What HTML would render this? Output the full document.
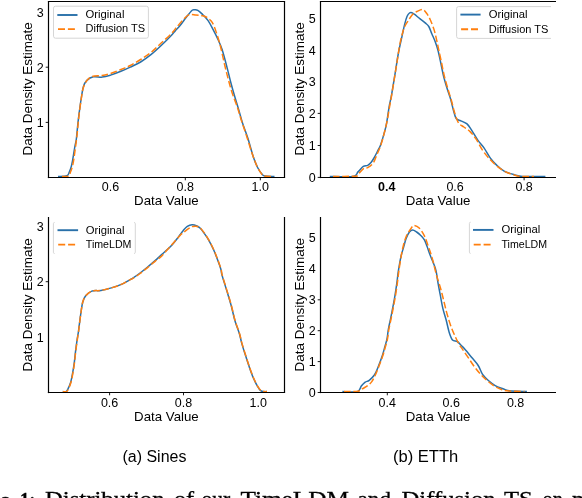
<!DOCTYPE html>
<html><head><meta charset="utf-8"><title>figure</title>
<style>html,body{margin:0;padding:0;background:#fff;overflow:hidden}svg{display:block;will-change:transform;transform:translateZ(0)}</style>
</head><body>
<svg width="582" height="498" viewBox="0 0 582 498">
<rect width="582" height="498" fill="#fff"/>
<path d="M58.00 176.50 C59.48 176.38 65.02 176.53 66.90 175.80 C68.78 175.07 68.57 173.65 69.30 172.10 C70.03 170.55 70.77 168.37 71.30 166.50 C71.83 164.63 72.10 163.03 72.50 160.90 C72.90 158.77 73.30 156.12 73.70 153.70 C74.10 151.28 74.50 148.55 74.90 146.40 C75.30 144.25 75.80 142.58 76.10 140.80 C76.40 139.02 76.40 138.57 76.70 135.70 C77.00 132.83 77.50 127.32 77.90 123.60 C78.30 119.88 78.53 117.67 79.10 113.40 C79.67 109.13 80.58 102.45 81.30 98.00 C82.02 93.55 82.47 89.63 83.40 86.70 C84.33 83.77 85.23 82.05 86.90 80.40 C88.57 78.75 90.83 77.35 93.40 76.80 C95.97 76.25 99.43 77.38 102.30 77.10 C105.17 76.82 107.50 76.07 110.60 75.10 C113.70 74.13 117.62 72.63 120.90 71.30 C124.18 69.97 127.02 68.65 130.30 67.10 C133.58 65.55 137.17 64.07 140.60 62.00 C144.03 59.93 147.47 57.45 150.90 54.70 C154.33 51.95 157.77 48.75 161.20 45.50 C164.63 42.25 169.17 37.63 171.50 35.20 C173.83 32.77 173.73 32.55 175.20 30.90 C176.67 29.25 178.42 27.62 180.30 25.30 C182.18 22.98 184.52 19.50 186.50 17.00 C188.48 14.50 190.83 11.50 192.20 10.30 C193.57 9.10 193.77 9.80 194.70 9.80 C195.63 9.80 196.58 9.62 197.80 10.30 C199.02 10.98 200.28 12.18 202.00 13.90 C203.72 15.62 206.22 17.93 208.10 20.60 C209.98 23.27 211.75 26.98 213.30 29.90 C214.85 32.82 215.93 34.83 217.40 38.10 C218.87 41.37 220.47 44.50 222.10 49.50 C223.73 54.50 225.75 62.60 227.20 68.10 C228.65 73.60 229.58 77.88 230.80 82.50 C232.02 87.12 233.18 91.28 234.50 95.80 C235.82 100.32 237.37 105.05 238.70 109.60 C240.03 114.15 240.98 118.35 242.50 123.10 C244.02 127.85 246.03 132.58 247.80 138.10 C249.57 143.62 251.47 151.30 253.10 156.20 C254.73 161.10 256.10 164.48 257.60 167.50 C259.10 170.52 260.85 172.87 262.10 174.30 C263.35 175.73 263.03 175.73 265.10 176.10 C267.17 176.47 272.93 176.43 274.50 176.50" fill="none" stroke="#2970a9" stroke-width="1.5" stroke-linejoin="round"/>
<path d="M62.00 176.50 C63.08 176.45 67.08 176.95 68.50 176.20 C69.92 175.45 69.83 173.70 70.50 172.00 C71.17 170.30 71.92 168.33 72.50 166.00 C73.08 163.67 73.50 161.17 74.00 158.00 C74.50 154.83 75.03 150.50 75.50 147.00 C75.97 143.50 76.38 140.67 76.80 137.00 C77.22 133.33 77.58 129.00 78.00 125.00 C78.42 121.00 78.75 117.42 79.30 113.00 C79.85 108.58 80.65 102.67 81.30 98.50 C81.95 94.33 82.33 90.92 83.20 88.00 C84.07 85.08 85.03 82.92 86.50 81.00 C87.97 79.08 89.42 77.42 92.00 76.50 C94.58 75.58 98.90 76.00 102.00 75.50 C105.10 75.00 107.45 74.50 110.60 73.50 C113.75 72.50 117.62 70.83 120.90 69.50 C124.18 68.17 127.02 67.17 130.30 65.50 C133.58 63.83 137.17 61.67 140.60 59.50 C144.03 57.33 147.47 55.25 150.90 52.50 C154.33 49.75 157.77 46.17 161.20 43.00 C164.63 39.83 169.00 36.03 171.50 33.50 C174.00 30.97 174.38 29.95 176.20 27.80 C178.02 25.65 180.33 22.75 182.40 20.60 C184.47 18.45 186.37 15.85 188.60 14.90 C190.83 13.95 193.57 14.77 195.80 14.90 C198.03 15.03 200.28 15.35 202.00 15.70 C203.72 16.05 204.57 16.10 206.10 17.00 C207.63 17.90 209.83 19.47 211.20 21.10 C212.57 22.73 213.08 23.78 214.30 26.80 C215.52 29.82 217.38 35.58 218.50 39.20 C219.62 42.82 219.97 44.20 221.00 48.50 C222.03 52.80 223.50 59.92 224.70 65.00 C225.90 70.08 226.95 74.33 228.20 79.00 C229.45 83.67 230.68 88.33 232.20 93.00 C233.72 97.67 235.73 102.33 237.30 107.00 C238.87 111.67 240.00 116.00 241.60 121.00 C243.20 126.00 245.12 131.50 246.90 137.00 C248.68 142.50 250.63 149.17 252.30 154.00 C253.97 158.83 255.38 162.73 256.90 166.00 C258.42 169.27 260.13 171.93 261.40 173.60 C262.67 175.27 262.73 175.52 264.50 176.00 C266.27 176.48 270.75 176.42 272.00 176.50" fill="none" stroke="#ff7f0e" stroke-width="1.5" stroke-dasharray="6.6 2.7" stroke-linejoin="round"/>
<line x1="47.90" y1="1.50" x2="285.10" y2="1.50" stroke="#000" stroke-width="1.2"/>
<line x1="284.50" y1="1.50" x2="284.50" y2="177.50" stroke="#000" stroke-width="1.2"/>
<line x1="48.50" y1="1.50" x2="48.50" y2="178.10" stroke="#000" stroke-width="1.2"/>
<line x1="47.90" y1="177.50" x2="285.10" y2="177.50" stroke="#000" stroke-width="1.2"/>
<text x="110.50" y="190.70" font-size="12.5" text-anchor="middle" font-weight="normal" font-family='"Liberation Sans", sans-serif' >0.6</text>
<line x1="185.30" y1="177.50" x2="185.30" y2="180.30" stroke="#000" stroke-width="0.9"/>
<text x="185.30" y="190.70" font-size="12.5" text-anchor="middle" font-weight="normal" font-family='"Liberation Sans", sans-serif' >0.8</text>
<line x1="260.30" y1="177.50" x2="260.30" y2="180.30" stroke="#000" stroke-width="0.9"/>
<text x="260.30" y="190.70" font-size="12.5" text-anchor="middle" font-weight="normal" font-family='"Liberation Sans", sans-serif' >1.0</text>
<text x="43.70" y="16.60" font-size="12.5" text-anchor="end" font-weight="normal" font-family='"Liberation Sans", sans-serif' >3</text>
<line x1="45.70" y1="67.20" x2="48.50" y2="67.20" stroke="#000" stroke-width="0.9"/>
<text x="43.70" y="71.50" font-size="12.5" text-anchor="end" font-weight="normal" font-family='"Liberation Sans", sans-serif' >2</text>
<line x1="45.70" y1="122.40" x2="48.50" y2="122.40" stroke="#000" stroke-width="0.9"/>
<text x="43.70" y="126.70" font-size="12.5" text-anchor="end" font-weight="normal" font-family='"Liberation Sans", sans-serif' >1</text>
<text x="166.40" y="205.20" font-size="12.8" text-anchor="middle" font-weight="normal" font-family='"Liberation Sans", sans-serif' textLength="64.6" lengthAdjust="spacingAndGlyphs">Data Value</text>
<text x="0" y="0" font-size="12.7" text-anchor="middle" font-family='"Liberation Sans", sans-serif' textLength="133.4" lengthAdjust="spacingAndGlyphs" transform="translate(32.00 88.90) rotate(-90)">Data Density Estimate</text>
<rect x="53.50" y="6.20" width="94.90" height="32.00" rx="2" fill="#fff" stroke="#d6d6d6" stroke-width="1"/>
<line x1="57.30" y1="15.00" x2="77.50" y2="15.00" stroke="#2970a9" stroke-width="1.9"/>
<line x1="58.00" y1="29.10" x2="76.70" y2="29.10" stroke="#ff7f0e" stroke-width="1.9" stroke-dasharray="7.0 2.9"/>
<text x="85.60" y="17.90" font-size="10" text-anchor="start" font-weight="normal" font-family='"Liberation Sans", sans-serif' textLength="38.8" lengthAdjust="spacingAndGlyphs">Original</text>
<text x="85.60" y="32.40" font-size="10" text-anchor="start" font-weight="normal" font-family='"Liberation Sans", sans-serif' textLength="59.6" lengthAdjust="spacingAndGlyphs">Diffusion TS</text>
<path d="M329.80 176.50 C333.67 176.50 348.30 177.27 353.00 176.50 C357.70 175.73 356.28 173.58 358.00 171.90 C359.72 170.22 361.68 167.50 363.30 166.40 C364.92 165.30 366.42 165.95 367.70 165.30 C368.98 164.65 369.90 163.80 371.00 162.50 C372.10 161.20 373.18 159.43 374.30 157.50 C375.42 155.57 376.68 152.92 377.70 150.90 C378.72 148.88 379.48 147.78 380.40 145.40 C381.32 143.02 382.28 139.73 383.20 136.60 C384.12 133.47 385.22 129.55 385.90 126.60 C386.58 123.65 386.75 122.28 387.30 118.90 C387.85 115.52 388.53 110.05 389.20 106.30 C389.87 102.55 390.60 100.15 391.30 96.40 C392.00 92.65 392.70 88.02 393.40 83.80 C394.10 79.58 394.78 75.57 395.50 71.10 C396.22 66.63 396.97 61.22 397.70 57.00 C398.43 52.78 399.13 49.48 399.90 45.80 C400.67 42.12 401.50 38.52 402.30 34.90 C403.10 31.28 403.90 27.20 404.70 24.10 C405.50 21.00 406.30 18.15 407.10 16.30 C407.90 14.45 408.70 13.60 409.50 13.00 C410.30 12.40 411.10 12.50 411.90 12.70 C412.70 12.90 412.98 13.20 414.30 14.20 C415.62 15.20 417.98 17.25 419.80 18.70 C421.62 20.15 423.70 21.60 425.20 22.90 C426.70 24.20 427.70 24.70 428.80 26.50 C429.90 28.30 430.70 31.08 431.80 33.70 C432.90 36.32 434.35 39.35 435.40 42.20 C436.45 45.05 437.18 47.25 438.10 50.80 C439.02 54.35 439.98 59.27 440.90 63.50 C441.82 67.73 442.55 71.98 443.60 76.20 C444.65 80.42 446.00 84.88 447.20 88.80 C448.40 92.72 449.75 96.08 450.80 99.70 C451.85 103.32 452.60 107.37 453.50 110.50 C454.40 113.63 454.98 116.78 456.20 118.50 C457.42 120.22 459.00 119.90 460.80 120.80 C462.60 121.70 465.20 122.35 467.00 123.90 C468.80 125.45 469.80 127.40 471.60 130.10 C473.40 132.80 475.73 137.13 477.80 140.10 C479.87 143.07 481.93 144.93 484.00 147.90 C486.07 150.87 488.13 155.07 490.20 157.90 C492.27 160.73 494.08 162.70 496.40 164.90 C498.72 167.10 501.02 169.43 504.10 171.10 C507.18 172.77 511.82 174.00 514.90 174.90 C517.98 175.80 517.52 176.23 522.60 176.50 C527.68 176.77 541.60 176.50 545.40 176.50" fill="none" stroke="#2970a9" stroke-width="1.5" stroke-linejoin="round"/>
<path d="M333.00 176.50 C336.67 176.45 350.92 176.45 355.00 176.20 C359.08 175.95 356.12 176.23 357.50 175.00 C358.88 173.77 361.60 170.03 363.30 168.80 C365.00 167.57 366.05 168.57 367.70 167.60 C369.35 166.63 371.72 165.05 373.20 163.00 C374.68 160.95 375.48 157.87 376.60 155.30 C377.72 152.73 378.93 150.15 379.90 147.60 C380.87 145.05 381.57 142.85 382.40 140.00 C383.23 137.15 384.08 133.83 384.90 130.50 C385.72 127.17 386.53 123.92 387.30 120.00 C388.07 116.08 388.80 111.00 389.50 107.00 C390.20 103.00 390.83 99.83 391.50 96.00 C392.17 92.17 392.83 88.08 393.50 84.00 C394.17 79.92 394.83 75.67 395.50 71.50 C396.17 67.33 396.83 63.25 397.50 59.00 C398.17 54.75 398.75 50.00 399.50 46.00 C400.25 42.00 401.17 38.17 402.00 35.00 C402.83 31.83 403.50 29.33 404.50 27.00 C405.50 24.67 406.67 23.08 408.00 21.00 C409.33 18.92 410.95 16.10 412.50 14.50 C414.05 12.90 415.58 12.22 417.30 11.40 C419.02 10.58 421.18 9.18 422.80 9.60 C424.42 10.02 425.70 12.08 427.00 13.90 C428.30 15.72 429.40 17.80 430.60 20.50 C431.80 23.20 433.20 26.88 434.20 30.10 C435.20 33.32 435.82 36.38 436.60 39.80 C437.38 43.22 438.07 46.73 438.90 50.60 C439.73 54.47 440.70 58.77 441.60 63.00 C442.50 67.23 443.25 71.67 444.30 76.00 C445.35 80.33 446.72 84.92 447.90 89.00 C449.08 93.08 450.37 96.83 451.40 100.50 C452.43 104.17 453.20 107.87 454.10 111.00 C455.00 114.13 455.93 117.15 456.80 119.30 C457.67 121.45 458.12 122.62 459.30 123.90 C460.48 125.18 462.10 125.72 463.90 127.00 C465.70 128.28 468.03 129.53 470.10 131.60 C472.17 133.67 474.23 136.30 476.30 139.40 C478.37 142.50 480.45 147.12 482.50 150.20 C484.55 153.28 486.28 155.33 488.60 157.90 C490.92 160.47 493.57 163.28 496.40 165.60 C499.23 167.92 502.25 170.12 505.60 171.80 C508.95 173.48 513.67 174.92 516.50 175.70 C519.33 176.48 519.68 176.37 522.60 176.50 C525.52 176.63 532.10 176.50 534.00 176.50" fill="none" stroke="#ff7f0e" stroke-width="1.5" stroke-dasharray="6.6 2.7" stroke-linejoin="round"/>
<line x1="319.90" y1="1.50" x2="556.00" y2="1.50" stroke="#000" stroke-width="1.2"/>
<line x1="320.50" y1="1.50" x2="320.50" y2="178.10" stroke="#000" stroke-width="1.2"/>
<line x1="319.90" y1="177.50" x2="556.00" y2="177.50" stroke="#000" stroke-width="1.2"/>
<text x="386.70" y="190.70" font-size="12.5" text-anchor="middle" font-weight="bold" font-family='"Liberation Sans", sans-serif' >0.4</text>
<text x="455.10" y="190.70" font-size="12.5" text-anchor="middle" font-weight="normal" font-family='"Liberation Sans", sans-serif' >0.6</text>
<line x1="524.10" y1="177.50" x2="524.10" y2="180.30" stroke="#000" stroke-width="0.9"/>
<text x="524.10" y="190.70" font-size="12.5" text-anchor="middle" font-weight="normal" font-family='"Liberation Sans", sans-serif' >0.8</text>
<line x1="317.70" y1="177.40" x2="320.50" y2="177.40" stroke="#000" stroke-width="0.9"/>
<text x="315.70" y="181.70" font-size="12.5" text-anchor="end" font-weight="normal" font-family='"Liberation Sans", sans-serif' >0</text>
<line x1="317.70" y1="145.50" x2="320.50" y2="145.50" stroke="#000" stroke-width="0.9"/>
<text x="315.70" y="149.80" font-size="12.5" text-anchor="end" font-weight="normal" font-family='"Liberation Sans", sans-serif' >1</text>
<line x1="317.70" y1="113.40" x2="320.50" y2="113.40" stroke="#000" stroke-width="0.9"/>
<text x="315.70" y="117.70" font-size="12.5" text-anchor="end" font-weight="normal" font-family='"Liberation Sans", sans-serif' >2</text>
<text x="315.70" y="86.30" font-size="12.5" text-anchor="end" font-weight="normal" font-family='"Liberation Sans", sans-serif' >3</text>
<text x="315.70" y="54.90" font-size="12.5" text-anchor="end" font-weight="normal" font-family='"Liberation Sans", sans-serif' >4</text>
<text x="315.70" y="22.80" font-size="12.5" text-anchor="end" font-weight="normal" font-family='"Liberation Sans", sans-serif' >5</text>
<text x="438.10" y="205.20" font-size="12.8" text-anchor="middle" font-weight="normal" font-family='"Liberation Sans", sans-serif' textLength="64.6" lengthAdjust="spacingAndGlyphs">Data Value</text>
<text x="0" y="0" font-size="12.7" text-anchor="middle" font-family='"Liberation Sans", sans-serif' textLength="133.4" lengthAdjust="spacingAndGlyphs" transform="translate(303.80 88.90) rotate(-90)">Data Density Estimate</text>
<path d="M551.00 6.60 H458.60 Q456.60 6.60 456.60 8.60 V36.40 Q456.60 38.40 458.60 38.40 H551.00" fill="none" stroke="#d6d6d6" stroke-width="1"/>
<line x1="460.40" y1="14.60" x2="480.60" y2="14.60" stroke="#2970a9" stroke-width="1.9"/>
<line x1="461.10" y1="29.30" x2="479.80" y2="29.30" stroke="#ff7f0e" stroke-width="1.9" stroke-dasharray="7.0 2.9"/>
<text x="488.80" y="17.50" font-size="10" text-anchor="start" font-weight="normal" font-family='"Liberation Sans", sans-serif' textLength="38.8" lengthAdjust="spacingAndGlyphs">Original</text>
<text x="488.80" y="32.60" font-size="10" text-anchor="start" font-weight="normal" font-family='"Liberation Sans", sans-serif' textLength="59.6" lengthAdjust="spacingAndGlyphs">Diffusion TS</text>
<path d="M62.80 391.60 C63.35 391.60 65.22 392.08 66.10 391.60 C66.98 391.12 67.33 390.27 68.10 388.70 C68.87 387.13 69.95 384.80 70.70 382.20 C71.45 379.60 72.00 376.37 72.60 373.10 C73.20 369.83 73.80 366.30 74.30 362.60 C74.80 358.90 75.12 354.82 75.60 350.90 C76.08 346.98 76.72 342.37 77.20 339.10 C77.68 335.83 78.18 333.43 78.50 331.30 C78.82 329.17 78.68 329.48 79.10 326.30 C79.52 323.12 80.40 316.20 81.00 312.20 C81.60 308.20 81.95 305.00 82.70 302.30 C83.45 299.60 83.98 297.87 85.50 296.00 C87.02 294.13 89.23 292.03 91.80 291.10 C94.37 290.17 97.50 290.98 100.90 290.40 C104.30 289.82 108.68 288.65 112.20 287.60 C115.72 286.55 119.07 285.40 122.00 284.10 C124.93 282.80 128.05 280.77 129.80 279.80 C131.55 278.83 130.78 279.43 132.50 278.30 C134.22 277.17 137.58 274.88 140.10 273.00 C142.62 271.12 145.10 269.07 147.60 267.00 C150.10 264.93 153.03 262.42 155.10 260.60 C157.17 258.78 158.38 257.58 160.00 256.10 C161.62 254.62 162.80 253.57 164.80 251.70 C166.80 249.83 169.72 247.37 172.00 244.90 C174.28 242.43 176.62 239.32 178.50 236.90 C180.38 234.48 181.83 232.15 183.30 230.40 C184.77 228.65 185.83 227.33 187.30 226.40 C188.77 225.47 190.50 224.87 192.10 224.80 C193.70 224.73 195.53 225.42 196.90 226.00 C198.27 226.58 199.13 227.15 200.30 228.30 C201.47 229.45 202.50 230.93 203.90 232.90 C205.30 234.87 207.08 237.28 208.70 240.10 C210.32 242.92 212.18 246.68 213.60 249.80 C215.02 252.92 216.00 255.60 217.20 258.80 C218.40 262.00 220.00 266.28 220.80 269.00 C221.60 271.72 221.03 271.58 222.00 275.10 C222.97 278.62 225.08 285.08 226.60 290.10 C228.12 295.12 229.73 300.18 231.10 305.20 C232.47 310.22 233.42 315.43 234.80 320.20 C236.18 324.97 238.25 329.98 239.40 333.80 C240.55 337.62 240.65 339.38 241.70 343.10 C242.75 346.82 244.38 351.97 245.70 356.10 C247.02 360.23 248.30 364.20 249.60 367.90 C250.90 371.60 252.20 375.27 253.50 378.30 C254.80 381.33 256.20 384.03 257.40 386.10 C258.60 388.17 259.60 389.78 260.70 390.70 C261.80 391.62 263.02 391.45 264.00 391.60 C264.98 391.75 266.17 391.60 266.60 391.60" fill="none" stroke="#2970a9" stroke-width="1.5" stroke-linejoin="round"/>
<path d="M62.80 391.60 C63.43 391.60 65.63 392.08 66.60 391.60 C67.57 391.12 67.87 390.27 68.60 388.70 C69.33 387.13 70.28 384.80 71.00 382.20 C71.72 379.60 72.32 376.37 72.90 373.10 C73.48 369.83 74.02 366.30 74.50 362.60 C74.98 358.90 75.32 354.82 75.80 350.90 C76.28 346.98 76.93 342.37 77.40 339.10 C77.87 335.83 78.30 333.43 78.60 331.30 C78.90 329.17 78.80 329.48 79.20 326.30 C79.60 323.12 80.42 316.20 81.00 312.20 C81.58 308.20 81.95 305.00 82.70 302.30 C83.45 299.60 83.98 297.87 85.50 296.00 C87.02 294.13 89.23 292.03 91.80 291.10 C94.37 290.17 97.50 290.98 100.90 290.40 C104.30 289.82 108.68 288.65 112.20 287.60 C115.72 286.55 119.07 285.40 122.00 284.10 C124.93 282.80 128.05 280.72 129.80 279.80 C131.55 278.88 130.78 279.65 132.50 278.60 C134.22 277.55 137.58 275.33 140.10 273.50 C142.62 271.67 145.10 269.63 147.60 267.60 C150.10 265.57 152.77 263.22 155.10 261.30 C157.43 259.38 159.45 258.17 161.60 256.10 C163.75 254.03 165.85 251.30 168.00 248.90 C170.15 246.50 172.35 244.10 174.50 241.70 C176.65 239.30 179.30 236.12 180.90 234.50 C182.50 232.88 182.77 233.02 184.10 232.00 C185.43 230.98 187.43 229.33 188.90 228.40 C190.37 227.47 191.28 226.67 192.90 226.40 C194.52 226.13 196.77 225.80 198.60 226.80 C200.43 227.80 202.18 230.18 203.90 232.40 C205.62 234.62 207.25 237.20 208.90 240.10 C210.55 243.00 212.38 246.68 213.80 249.80 C215.22 252.92 216.20 255.60 217.40 258.80 C218.60 262.00 220.20 266.28 221.00 269.00 C221.80 271.72 221.23 271.58 222.20 275.10 C223.17 278.62 225.28 285.08 226.80 290.10 C228.32 295.12 229.93 300.18 231.30 305.20 C232.67 310.22 233.62 315.43 235.00 320.20 C236.38 324.97 238.45 329.98 239.60 333.80 C240.75 337.62 240.85 339.38 241.90 343.10 C242.95 346.82 244.58 351.97 245.90 356.10 C247.22 360.23 248.50 364.20 249.80 367.90 C251.10 371.60 252.40 375.27 253.70 378.30 C255.00 381.33 256.38 384.03 257.60 386.10 C258.82 388.17 259.93 389.78 261.00 390.70 C262.07 391.62 263.00 391.45 264.00 391.60 C265.00 391.75 266.50 391.60 267.00 391.60" fill="none" stroke="#ff7f0e" stroke-width="1.5" stroke-dasharray="6.6 2.7" stroke-linejoin="round"/>
<line x1="284.50" y1="217.00" x2="284.50" y2="392.50" stroke="#000" stroke-width="1.2"/>
<line x1="48.50" y1="217.00" x2="48.50" y2="393.10" stroke="#000" stroke-width="1.2"/>
<line x1="47.90" y1="392.50" x2="285.10" y2="392.50" stroke="#000" stroke-width="1.2"/>
<line x1="109.60" y1="392.50" x2="109.60" y2="395.30" stroke="#000" stroke-width="0.9"/>
<text x="109.60" y="406.70" font-size="12.5" text-anchor="middle" font-weight="normal" font-family='"Liberation Sans", sans-serif' >0.6</text>
<line x1="183.50" y1="392.50" x2="183.50" y2="395.30" stroke="#000" stroke-width="0.9"/>
<text x="183.50" y="406.70" font-size="12.5" text-anchor="middle" font-weight="normal" font-family='"Liberation Sans", sans-serif' >0.8</text>
<text x="258.30" y="406.70" font-size="12.5" text-anchor="middle" font-weight="normal" font-family='"Liberation Sans", sans-serif' >1.0</text>
<text x="43.70" y="230.50" font-size="12.5" text-anchor="end" font-weight="normal" font-family='"Liberation Sans", sans-serif' >3</text>
<line x1="45.70" y1="281.70" x2="48.50" y2="281.70" stroke="#000" stroke-width="0.9"/>
<text x="43.70" y="286.00" font-size="12.5" text-anchor="end" font-weight="normal" font-family='"Liberation Sans", sans-serif' >2</text>
<text x="43.70" y="341.70" font-size="12.5" text-anchor="end" font-weight="normal" font-family='"Liberation Sans", sans-serif' >1</text>
<text x="166.40" y="420.80" font-size="12.8" text-anchor="middle" font-weight="normal" font-family='"Liberation Sans", sans-serif' textLength="64.6" lengthAdjust="spacingAndGlyphs">Data Value</text>
<text x="0" y="0" font-size="12.7" text-anchor="middle" font-family='"Liberation Sans", sans-serif' textLength="133.4" lengthAdjust="spacingAndGlyphs" transform="translate(32.20 304.90) rotate(-90)">Data Density Estimate</text>
<path d="M54.60 222.50 Q53.40 222.50 53.40 223.70 V252.30 Q53.40 253.50 54.60 253.50 M134.10 222.50 Q135.30 222.50 135.30 223.70 V252.30 Q135.30 253.50 134.10 253.50" fill="none" stroke="#d6d6d6" stroke-width="1"/>
<line x1="57.50" y1="230.20" x2="78.10" y2="230.20" stroke="#2970a9" stroke-width="1.9"/>
<line x1="58.20" y1="244.60" x2="77.30" y2="244.60" stroke="#ff7f0e" stroke-width="1.9" stroke-dasharray="7.0 2.9"/>
<text x="85.80" y="233.60" font-size="10" text-anchor="start" font-weight="normal" font-family='"Liberation Sans", sans-serif' textLength="38.8" lengthAdjust="spacingAndGlyphs">Original</text>
<text x="85.80" y="248.10" font-size="10" text-anchor="start" font-weight="normal" font-family='"Liberation Sans", sans-serif' textLength="45.6" lengthAdjust="spacingAndGlyphs">TimeLDM</text>
<path d="M342.40 391.60 C344.90 391.60 354.25 392.52 357.40 391.60 C360.55 390.68 360.00 387.67 361.30 386.10 C362.60 384.53 363.88 383.17 365.20 382.20 C366.52 381.23 367.67 381.50 369.20 380.30 C370.73 379.10 372.88 377.28 374.40 375.00 C375.92 372.72 377.00 369.75 378.30 366.60 C379.60 363.45 381.12 359.37 382.20 356.10 C383.28 352.83 384.00 349.87 384.80 347.00 C385.60 344.13 386.40 341.88 387.00 338.90 C387.60 335.92 387.82 332.38 388.40 329.10 C388.98 325.82 389.78 322.72 390.50 319.20 C391.22 315.68 391.98 311.75 392.70 308.00 C393.42 304.25 394.10 300.92 394.80 296.70 C395.50 292.48 396.32 286.92 396.90 282.70 C397.48 278.48 397.63 275.72 398.30 271.40 C398.97 267.08 400.03 260.77 400.90 256.80 C401.77 252.83 402.63 250.65 403.50 247.60 C404.37 244.55 405.12 241.10 406.10 238.50 C407.08 235.90 408.32 233.42 409.40 232.00 C410.48 230.58 411.40 230.00 412.60 230.00 C413.80 230.00 415.28 231.13 416.60 232.00 C417.92 232.87 419.20 233.90 420.50 235.20 C421.80 236.50 423.32 237.95 424.40 239.80 C425.48 241.65 426.02 243.68 427.00 246.30 C427.98 248.92 429.22 252.67 430.30 255.50 C431.38 258.33 432.53 260.70 433.50 263.30 C434.47 265.90 435.35 267.83 436.10 271.10 C436.85 274.37 437.28 278.80 438.00 282.90 C438.72 287.00 439.58 291.42 440.40 295.70 C441.22 299.98 441.95 304.58 442.90 308.60 C443.85 312.62 445.03 315.78 446.10 319.80 C447.17 323.82 448.23 329.35 449.30 332.70 C450.37 336.05 451.17 338.43 452.50 339.90 C453.83 341.37 455.83 340.57 457.30 341.50 C458.77 342.43 460.13 344.33 461.30 345.50 C462.47 346.67 462.52 346.45 464.30 348.50 C466.08 350.55 469.68 354.97 472.00 357.80 C474.32 360.63 476.40 362.67 478.20 365.50 C480.00 368.33 481.00 372.22 482.80 374.80 C484.60 377.38 486.93 379.20 489.00 381.00 C491.07 382.80 492.88 384.32 495.20 385.60 C497.52 386.88 500.58 387.85 502.90 388.70 C505.22 389.55 505.10 390.22 509.10 390.70 C513.10 391.18 523.93 391.45 526.90 391.60" fill="none" stroke="#2970a9" stroke-width="1.5" stroke-linejoin="round"/>
<path d="M344.00 391.60 C346.33 391.53 354.90 391.68 358.00 391.20 C361.10 390.72 360.95 389.65 362.60 388.70 C364.25 387.75 366.37 386.68 367.90 385.50 C369.43 384.32 370.62 383.23 371.80 381.60 C372.98 379.97 373.83 378.20 375.00 375.70 C376.17 373.20 377.52 369.87 378.80 366.60 C380.08 363.33 381.62 359.37 382.70 356.10 C383.78 352.83 384.50 349.87 385.30 347.00 C386.10 344.13 386.90 341.88 387.50 338.90 C388.10 335.92 388.32 332.38 388.90 329.10 C389.48 325.82 390.28 322.72 391.00 319.20 C391.72 315.68 392.48 311.75 393.20 308.00 C393.92 304.25 394.60 300.92 395.30 296.70 C396.00 292.48 396.82 286.92 397.40 282.70 C397.98 278.48 398.17 275.85 398.80 271.40 C399.43 266.95 400.42 260.40 401.20 256.00 C401.98 251.60 402.70 248.17 403.50 245.00 C404.30 241.83 405.13 239.17 406.00 237.00 C406.87 234.83 407.82 233.50 408.70 232.00 C409.58 230.50 410.43 229.10 411.30 228.00 C412.17 226.90 412.58 225.40 413.90 225.40 C415.22 225.40 417.45 226.25 419.20 228.00 C420.95 229.75 422.88 232.85 424.40 235.90 C425.92 238.95 427.00 242.60 428.30 246.30 C429.60 250.00 430.85 253.35 432.20 258.10 C433.55 262.85 435.03 269.87 436.40 274.80 C437.77 279.73 439.18 283.42 440.40 287.70 C441.62 291.98 442.62 296.22 443.70 300.50 C444.78 304.78 445.70 309.12 446.90 313.40 C448.10 317.68 449.57 322.45 450.90 326.20 C452.23 329.95 453.57 332.95 454.90 335.90 C456.23 338.85 457.70 341.77 458.90 343.90 C460.10 346.03 460.68 346.63 462.10 348.70 C463.52 350.77 465.50 353.50 467.40 356.30 C469.30 359.10 471.45 362.67 473.50 365.50 C475.55 368.33 477.63 370.97 479.70 373.30 C481.77 375.63 483.58 377.45 485.90 379.50 C488.22 381.55 491.02 383.93 493.60 385.60 C496.18 387.27 498.82 388.60 501.40 389.50 C503.98 390.40 505.23 390.65 509.10 391.00 C512.97 391.35 522.02 391.50 524.60 391.60" fill="none" stroke="#ff7f0e" stroke-width="1.5" stroke-dasharray="6.6 2.7" stroke-linejoin="round"/>
<line x1="320.50" y1="217.00" x2="320.50" y2="393.10" stroke="#000" stroke-width="1.2"/>
<line x1="319.90" y1="392.50" x2="556.00" y2="392.50" stroke="#000" stroke-width="1.2"/>
<line x1="387.30" y1="392.50" x2="387.30" y2="395.30" stroke="#000" stroke-width="0.9"/>
<text x="387.30" y="406.70" font-size="12.5" text-anchor="middle" font-weight="normal" font-family='"Liberation Sans", sans-serif' >0.4</text>
<text x="451.30" y="406.70" font-size="12.5" text-anchor="middle" font-weight="normal" font-family='"Liberation Sans", sans-serif' >0.6</text>
<text x="515.60" y="406.70" font-size="12.5" text-anchor="middle" font-weight="normal" font-family='"Liberation Sans", sans-serif' >0.8</text>
<line x1="317.70" y1="392.50" x2="320.50" y2="392.50" stroke="#000" stroke-width="0.9"/>
<text x="315.70" y="396.80" font-size="12.5" text-anchor="end" font-weight="normal" font-family='"Liberation Sans", sans-serif' >0</text>
<line x1="317.70" y1="361.60" x2="320.50" y2="361.60" stroke="#000" stroke-width="0.9"/>
<text x="315.70" y="365.90" font-size="12.5" text-anchor="end" font-weight="normal" font-family='"Liberation Sans", sans-serif' >1</text>
<line x1="317.70" y1="330.70" x2="320.50" y2="330.70" stroke="#000" stroke-width="0.9"/>
<text x="315.70" y="335.00" font-size="12.5" text-anchor="end" font-weight="normal" font-family='"Liberation Sans", sans-serif' >2</text>
<line x1="317.70" y1="299.80" x2="320.50" y2="299.80" stroke="#000" stroke-width="0.9"/>
<text x="315.70" y="304.10" font-size="12.5" text-anchor="end" font-weight="normal" font-family='"Liberation Sans", sans-serif' >3</text>
<text x="315.70" y="273.20" font-size="12.5" text-anchor="end" font-weight="normal" font-family='"Liberation Sans", sans-serif' >4</text>
<text x="315.70" y="242.30" font-size="12.5" text-anchor="end" font-weight="normal" font-family='"Liberation Sans", sans-serif' >5</text>
<text x="438.10" y="421.00" font-size="12.8" text-anchor="middle" font-weight="normal" font-family='"Liberation Sans", sans-serif' textLength="64.6" lengthAdjust="spacingAndGlyphs">Data Value</text>
<text x="0" y="0" font-size="12.7" text-anchor="middle" font-family='"Liberation Sans", sans-serif' textLength="133.4" lengthAdjust="spacingAndGlyphs" transform="translate(303.90 304.80) rotate(-90)">Data Density Estimate</text>
<path d="M470.60 222.20 Q469.40 222.20 469.40 223.40 V252.20 Q469.40 253.40 470.60 253.40" fill="none" stroke="#d6d6d6" stroke-width="1"/>
<line x1="473.00" y1="229.90" x2="493.50" y2="229.90" stroke="#2970a9" stroke-width="1.9"/>
<line x1="473.70" y1="244.60" x2="492.70" y2="244.60" stroke="#ff7f0e" stroke-width="1.9" stroke-dasharray="7.0 2.9"/>
<text x="501.50" y="233.30" font-size="10" text-anchor="start" font-weight="normal" font-family='"Liberation Sans", sans-serif' textLength="38.8" lengthAdjust="spacingAndGlyphs">Original</text>
<text x="501.50" y="248.10" font-size="10" text-anchor="start" font-weight="normal" font-family='"Liberation Sans", sans-serif' textLength="45.6" lengthAdjust="spacingAndGlyphs">TimeLDM</text>
<text x="122.50" y="462.00" font-size="16" text-anchor="start" font-weight="normal" font-family='"Liberation Sans", sans-serif' textLength="63.9" lengthAdjust="spacingAndGlyphs">(a) Sines</text>
<text x="393.00" y="462.20" font-size="16" text-anchor="start" font-weight="normal" font-family='"Liberation Sans", sans-serif' textLength="65.2" lengthAdjust="spacingAndGlyphs">(b) ETTh</text>
<text x="-11.00" y="507.00" font-size="22" text-anchor="start" font-weight="bold" font-family='"Liberation Serif", serif' textLength="21.5" lengthAdjust="spacingAndGlyphs" stroke="#000" stroke-width="0.3">re</text>
<text x="19.90" y="507.00" font-size="22" text-anchor="start" font-weight="bold" font-family='"Liberation Serif", serif' textLength="15.4" lengthAdjust="spacingAndGlyphs" stroke="#000" stroke-width="0.3">1:</text>
<text x="45.00" y="505.60" font-size="22" text-anchor="start" font-weight="normal" font-family='"Liberation Serif", serif' textLength="119.5" lengthAdjust="spacingAndGlyphs" stroke="#000" stroke-width="0.3">Distribution</text>
<text x="174.00" y="505.60" font-size="22" text-anchor="start" font-weight="normal" font-family='"Liberation Serif", serif' textLength="20.2" lengthAdjust="spacingAndGlyphs" stroke="#000" stroke-width="0.3">of</text>
<text x="201.40" y="505.60" font-size="22" text-anchor="start" font-weight="normal" font-family='"Liberation Serif", serif' textLength="28.9" lengthAdjust="spacingAndGlyphs" stroke="#000" stroke-width="0.3">our</text>
<text x="240.40" y="505.60" font-size="22" text-anchor="start" font-weight="normal" font-family='"Liberation Serif", serif' textLength="108.6" lengthAdjust="spacingAndGlyphs" stroke="#000" stroke-width="0.3">TimeLDM</text>
<text x="357.60" y="505.60" font-size="22" text-anchor="start" font-weight="normal" font-family='"Liberation Serif", serif' textLength="33.4" lengthAdjust="spacingAndGlyphs" stroke="#000" stroke-width="0.3">and</text>
<text x="401.50" y="505.60" font-size="22" text-anchor="start" font-weight="normal" font-family='"Liberation Serif", serif' textLength="131.2" lengthAdjust="spacingAndGlyphs" stroke="#000" stroke-width="0.3">Diffusion-TS</text>
<text x="542.50" y="505.60" font-size="22" text-anchor="start" font-weight="normal" font-family='"Liberation Serif", serif' textLength="20.5" lengthAdjust="spacingAndGlyphs" stroke="#000" stroke-width="0.3">on</text>
<text x="572.00" y="505.60" font-size="22" text-anchor="start" font-weight="normal" font-family='"Liberation Serif", serif' textLength="18.0" lengthAdjust="spacingAndGlyphs" stroke="#000" stroke-width="0.3">m</text>
</svg>
</body></html>
